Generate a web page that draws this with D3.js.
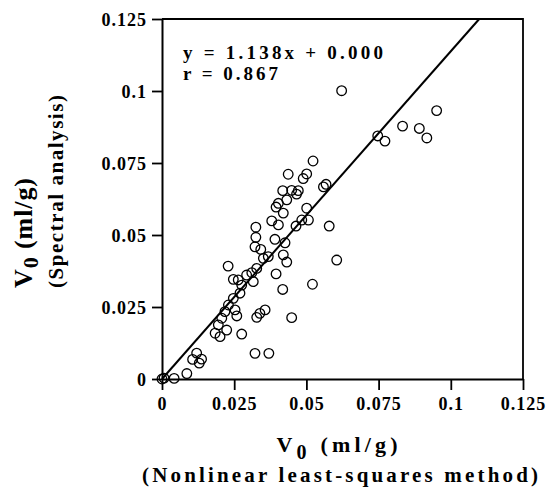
<!DOCTYPE html>
<html><head><meta charset="utf-8">
<script src="https://cdn.jsdelivr.net/npm/d3@7"></script>
<style>
body{margin:0;background:#fff;}
svg text{font-family:"Liberation Serif","Tinos","Times New Roman","DejaVu Serif",serif !important;font-weight:bold;fill:#000;}
</style></head><body>
<svg id="chart" width="549" height="496"></svg>
<script>
// ---- data ----
const tickValues = [0, 0.025, 0.05, 0.075, 0.1, 0.125];
const tickLabels = ["0", "0.025", "0.05", "0.075", "0.1", "0.125"];
const xNonlinear = [0.0622,0.0951,0.0833,0.0891,0.0917,0.0747,0.0772,0.0523,0.0437,0.0501,0.0489,0.0568,0.0559,0.0418,0.0449,0.0472,0.0466,0.0432,0.0403,0.0395,0.0420,0.0501,0.0380,0.0403,0.0484,0.0507,0.0464,0.0579,0.0325,0.0325,0.0391,0.0426,0.0322,0.0342,0.0605,0.0420,0.0432,0.0229,0.0395,0.0351,0.0328,0.0311,0.0293,0.0264,0.0247,0.0276,0.0316,0.0521,0.0418,0.0270,0.0247,0.0230,0.0253,0.0259,0.0218,0.0207,0.0357,0.0339,0.0328,0.0449,0.0195,0.0224,0.0184,0.0201,0.0276,0.0322,0.0370,0.0120,0.0106,0.0137,0.0129,0.0086,0.0042,0.0007,0.0000,0.0368];
const ySpectral = [0.1001,0.0932,0.0878,0.0870,0.0837,0.0844,0.0826,0.0757,0.0711,0.0712,0.0696,0.0676,0.0667,0.0654,0.0655,0.0654,0.0642,0.0622,0.0610,0.0597,0.0576,0.0593,0.0549,0.0535,0.0552,0.0552,0.0531,0.0531,0.0527,0.0492,0.0485,0.0473,0.0459,0.0450,0.0413,0.0431,0.0406,0.0392,0.0365,0.0419,0.0384,0.0369,0.0361,0.0344,0.0346,0.0326,0.0338,0.0329,0.0311,0.0298,0.0280,0.0257,0.0240,0.0219,0.0234,0.0211,0.0240,0.0228,0.0214,0.0213,0.0188,0.0170,0.0159,0.0147,0.0156,0.0089,0.0089,0.0090,0.0068,0.0069,0.0055,0.0019,0.0002,0.0003,0.0000,0.0425];
const slope = 1.138, intercept = 0.000, rValue = 0.867;

// ---- scales ----
const svg = d3.select("#chart");
const x = d3.scaleLinear().domain([0, 0.125]).range([162, 523]);
const y = d3.scaleLinear().domain([0, 0.125]).range([379, 19]);

// frame (top & right)
svg.append("path")
  .attr("d", `M${x(0)},${y(0.125)}H${x(0.125)}V${y(0)}`)
  .attr("fill", "none").attr("stroke", "#000").attr("stroke-width", 1.8);

// axes
const fmt = d => tickLabels[tickValues.indexOf(d)];
const gx = svg.append("g").attr("transform", `translate(0,${y(0)})`)
  .call(d3.axisBottom(x).tickValues(tickValues).tickFormat(fmt).tickSize(11).tickSizeOuter(0).tickPadding(7));
const gy = svg.append("g").attr("transform", `translate(${x(0)},0)`)
  .call(d3.axisLeft(y).tickValues(tickValues).tickFormat(fmt).tickSize(10).tickSizeOuter(0).tickPadding(5));
[gx, gy].forEach(g => {
  g.attr("font-family", null);
  g.select(".domain").attr("stroke-width", 2);
  g.selectAll(".tick line").attr("stroke-width", 1.8);
  g.selectAll(".tick text").attr("font-size", 18).attr("letter-spacing", 1);
});
gx.selectAll(".tick text").attr("dy", "0.71em");
gy.selectAll(".tick text").attr("dy", "0.35em");

// regression line
const xEnd = Math.min(0.125, (0.125 - intercept) / slope);
svg.append("line")
  .attr("x1", x(0)).attr("y1", y(intercept))
  .attr("x2", x(xEnd)).attr("y2", y(slope * xEnd + intercept))
  .attr("stroke", "#000").attr("stroke-width", 2);

// points
svg.append("g").selectAll("circle").data(xNonlinear.map((v, i) => [v, ySpectral[i]]))
  .join("circle")
  .attr("cx", d => x(d[0])).attr("cy", d => y(d[1])).attr("r", 4.8)
  .attr("fill", "none").attr("stroke", "#000").attr("stroke-width", 1.3);

// equation text
svg.append("text").attr("x", 183).attr("y", 59).attr("font-size", 19)
  .attr("textLength", 200).attr("lengthAdjust", "spacing")
  .text(`y = ${slope.toFixed(3)}x + ${intercept.toFixed(3)}`);
svg.append("text").attr("x", 183).attr("y", 80).attr("font-size", 19)
  .attr("textLength", 95).attr("lengthAdjust", "spacing")
  .text(`r = ${rValue.toFixed(3)}`);

// x title
const xt = svg.append("text").attr("x", 337).attr("y", 452).attr("text-anchor", "middle")
  .attr("font-size", 22).attr("textLength", 121).attr("lengthAdjust", "spacing");
xt.append("tspan").text("V");
xt.append("tspan").attr("dy", 7).attr("font-size", 20).text("0");
xt.append("tspan").attr("dy", -7).text(" (ml/g)");
svg.append("text").attr("x", 340).attr("y", 482).attr("text-anchor", "middle")
  .attr("font-size", 21).attr("textLength", 396).attr("lengthAdjust", "spacing")
  .text("(Nonlinear least-squares method)");

// y title
const yt = svg.append("text").attr("transform", "translate(32,288) rotate(-90)")
  .attr("font-size", 26).attr("textLength", 110).attr("lengthAdjust", "spacing");
yt.append("tspan").text("V");
yt.append("tspan").attr("dy", 6).attr("font-size", 22).text("0");
yt.append("tspan").attr("dy", -6).text(" (ml/g)");
svg.append("text").attr("transform", "translate(63,288) rotate(-90)")
  .attr("font-size", 21).attr("textLength", 193).attr("lengthAdjust", "spacing")
  .text("(Spectral analysis)");
</script>
</body></html>
